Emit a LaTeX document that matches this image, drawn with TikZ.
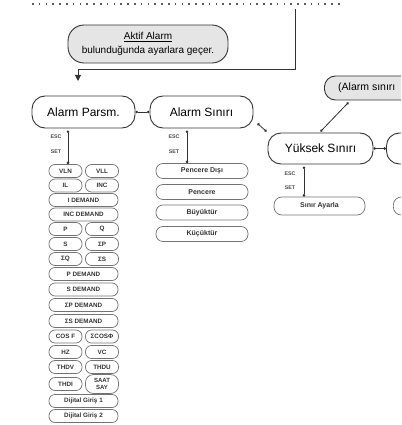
\documentclass[tikz,border=0pt]{standalone}
\usepackage{fontspec}
\setmainfont{Liberation Sans}
\usetikzlibrary{arrows.meta}
\begin{document}
\begin{tikzpicture}[x=1pt,y=-1pt,
  mainbox/.style={draw=black!80, line width=0.9pt, rounded corners=13pt, inner sep=0pt, font=\fontsize{12}{13}\selectfont},
  graybox/.style={mainbox, fill=black!10},
  sub/.style={draw=black!55, line width=0.7pt, rounded corners=6pt, inner sep=0pt, minimum height=13pt, font=\fontsize{6.3}{6.5}\selectfont\bfseries, text=black!80, align=center},
  half/.style={sub, minimum width=33pt},
  full/.style={sub, minimum width=69pt},
  opt/.style={sub, minimum width=92pt, minimum height=15pt, rounded corners=7pt, font=\fontsize{7}{8}\selectfont\bfseries},
  lbl/.style={font=\fontsize{5.3}{5.5}\selectfont\bfseries, text=black!70, inner sep=0pt},
  link/.style={draw=black!80, line width=0.8pt, {Circle[length=2.6pt]}-{Circle[length=2.6pt]}},
]
\useasboundingbox (0,0) rectangle (401,425);
\clip (0,0) rectangle (401,425);

% top dotted line and arrow
\coordinate (d1) at (32,4);
\coordinate (d2) at (343,4);
\draw[black!65, line width=1.1pt, dash pattern=on 1.6pt off 5.2pt] (d1) -- (d2);
\coordinate (v1) at (295,9);
\coordinate (v2) at (295,69);
\coordinate (v3) at (78,69);
\coordinate (v4) at (78,81);
\draw[black!80, line width=0.9pt, -{Triangle[length=6pt,width=6pt]}] (v1) -- (v2) -- (v3) -- (v4);

\node[graybox, minimum width=160pt, minimum height=38pt, rounded corners=16pt, align=center,
      font=\fontsize{10}{14}\selectfont] (aktif) at (148,44)
  {\underline{Aktif Alarm}\\bulunduğunda ayarlara geçer.};

% main boxes
\node[mainbox, minimum width=103pt, minimum height=32pt] (parsm) at (83.5,112) {Alarm Parsm.};
\node[mainbox, minimum width=103pt, minimum height=32pt] (sinir) at (201.5,112) {Alarm Sınırı};
\node[mainbox, minimum width=105pt, minimum height=31pt] (yuksek) at (320.5,148.5) {Yüksek Sınırı};
\node[graybox, minimum width=106pt, minimum height=24pt, rounded corners=11pt, anchor=west] (asinir) at (324,88) {};
\node[inner sep=0pt, anchor=west, font=\fontsize{10.5}{12}\selectfont] (asinirtext) at (338,88) {(Alarm sınırı};
\node[mainbox, minimum width=105pt, minimum height=31pt, anchor=west] (dusuk) at (386,148.5) {};

\draw[link] (parsm.east) -- (sinir.west);
\draw[link] ([shift={(4pt,5pt)}]sinir.south east) -- ([shift={(-1pt,1pt)}]yuksek.north west);
\draw[link] ([shift={(-29pt,-2pt)}]asinir.south) -- ([shift={(0pt,1pt)}]yuksek.north);
\draw[link] (yuksek.east) -- (dusuk.west);

% left column
\node[half] (vln) at (65.5,171) {VLN};
\node[half] (vll) at (102,171) {VLL};
\node[half] (il) at (65.5,185.5) {IL};
\node[half] (inc) at (102,185.5) {INC};
\node[full] (idem) at (83.5,200) {I DEMAND};
\node[full] (incdem) at (83.5,214.5) {INC DEMAND};
\node[half] (p) at (65.5,229) {P};
\node[half] (q) at (102,229) {Q};
\node[half] (s) at (65.5,244) {S};
\node[half] (sp) at (102,244) {ΣP};
\node[half] (sq) at (65.5,259) {ΣQ};
\node[half] (ss) at (102,259) {ΣS};
\node[full] (pdem) at (83.5,274) {P DEMAND};
\node[full] (sdem) at (83.5,289.5) {S DEMAND};
\node[full] (spdem) at (83.5,305) {ΣP DEMAND};
\node[full] (ssdem) at (83.5,321) {ΣS DEMAND};
\node[half] (cos) at (65.5,336.5) {COS F};
\node[half] (scos) at (102,336.5) {ΣCOSΦ};
\node[half] (hz) at (65.5,352) {HZ};
\node[half] (vc) at (102,352) {VC};
\node[half] (thdv) at (65.5,367) {THDV};
\node[half] (thdu) at (102,367) {THDU};
\node[half] (thdi) at (65.5,384) {THDI};
\node[half, minimum height=19pt, rounded corners=8pt, font=\fontsize{6}{7}\selectfont\bfseries] (saat) at (102,384) {SAAT\\SAY};
\node[full] (dg1) at (83.5,401) {Dijital Giriş 1};
\node[full] (dg2) at (83.5,416) {Dijital Giriş 2};

\draw[link] ([shift={(-15.5pt,-2pt)}]parsm.south) -- ([shift={(2.5pt,0pt)}]vln.north);
\node[lbl] (esc1) at (56,137) {ESC};
\node[lbl] (set1) at (56,152) {SET};

% Alarm Sınırı column
\node[opt] (pdisi) at (202,171) {Pencere Dışı};
\node[opt] (pen) at (202,192) {Pencere};
\node[opt] (buy) at (202,212.5) {Büyüktür};
\node[opt] (kuc) at (202,234) {Küçüktür};
\draw[link] ([shift={(-14.5pt,-2pt)}]sinir.south) -- ([shift={(-15pt,0pt)}]pdisi.north);
\node[lbl] (esc2) at (174,137) {ESC};
\node[lbl] (set2) at (174,152) {SET};

% Yüksek column
\node[opt, minimum width=91pt, minimum height=18pt, rounded corners=8pt] (ayarla) at (319.5,206) {Sınır Ayarla};
\node[opt, minimum width=91pt, minimum height=18pt, rounded corners=8pt, anchor=west] (ayarla2) at (393,206) {};
\draw[link] ([shift={(-16.5pt,-2pt)}]yuksek.south) -- ([shift={(-15.5pt,0pt)}]ayarla.north);
\node[lbl] (esc3) at (290,174) {ESC};
\node[lbl] (set3) at (290,188) {SET};
\end{tikzpicture}
\end{document}
